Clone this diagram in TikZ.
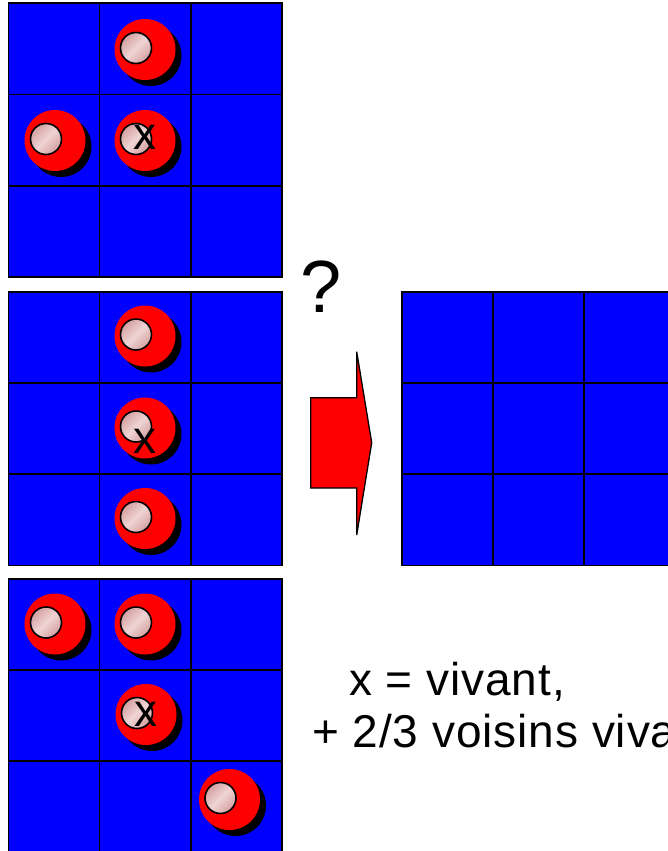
\documentclass[tikz,border=0pt]{standalone}
\usepackage{fontspec}
\setmainfont{Liberation Sans}
\definecolor{cellblue}{RGB}{0,0,255}
\definecolor{ballred}{RGB}{255,0,0}
\definecolor{pinkA}{RGB}{212,160,160}
\definecolor{pinkB}{RGB}{240,212,212}
\tikzset{
  cell/.style={draw=black, fill=cellblue, line width=1.6pt, minimum width=91.2pt, minimum height=91.2pt, inner sep=0pt, outer sep=0pt, anchor=north west},
  mark x/.style={font=\fontsize{46}{46}\selectfont, inner sep=0pt, text=black},
  bigtext/.style={font=\fontsize{46}{50}\selectfont\addfontfeatures{LetterSpace=2}, inner sep=0pt, anchor=base west}
}
\newcommand{\mygrid}[3]{% name, x0, y0
  \foreach \i in {0,1,2}{
    \foreach \j in {0,1,2}{
      \node[cell] (#1-\i-\j) at ({#2+91.2*\j},{#3+91.2*\i}) {};
    }
  }
}
\newcommand{\myball}[2]{% center x, y
  \fill[black] ({#1+6},{#2+6}) circle (30.5);
  \fill[ballred] (#1,#2) circle (30.5);
  \shade[left color=pinkA, right color=pinkA, middle color=pinkB, shading angle=45, draw=black, line width=1.6pt] ({#1-9},{#2-1.5}) circle (15.5);
}
\begin{document}
\begin{tikzpicture}[x=1pt,y=-1pt]
\useasboundingbox (0,0) rectangle (667,851);
\mygrid{ga}{8.3}{3.3}
\mygrid{gb}{8.3}{291.7}
\mygrid{gc}{8.3}{578.7}
\mygrid{gd}{401.7}{291.7}
% grid 1 balls
\myball{145}{49.5}
\myball{55}{140.5}
\myball{145}{140.5}
\node[mark x] (xa) at (145,137) {x};
% grid 2 balls
\myball{145}{336}
\myball{145}{428}
\myball{145}{518.5}
\node[mark x] (xb) at (145,441) {x};
% grid 3 balls
\myball{55}{624}
\myball{145}{624}
\myball{146}{714.5}
\myball{229.5}{799.5}
\node[mark x] (xc) at (146,714) {x};
% arrow
\draw[fill=ballred, line width=1.3pt, line join=miter]
  (310.7,397.7) -- (356.7,397.7) -- (356.7,351.7) -- (371.7,442.7)
  -- (356.7,535) -- (356.7,488) -- (310.7,488) -- cycle;
\node[font=\fontsize{74}{74}\selectfont, inner sep=0pt] (q) at (321.5,287) {?};
\node[bigtext] (t1) at (349,695) {x = vivant,};
\node[bigtext] (t2) at (312,747) {+ 2/3 voisins vivants};
\end{tikzpicture}
\end{document}
